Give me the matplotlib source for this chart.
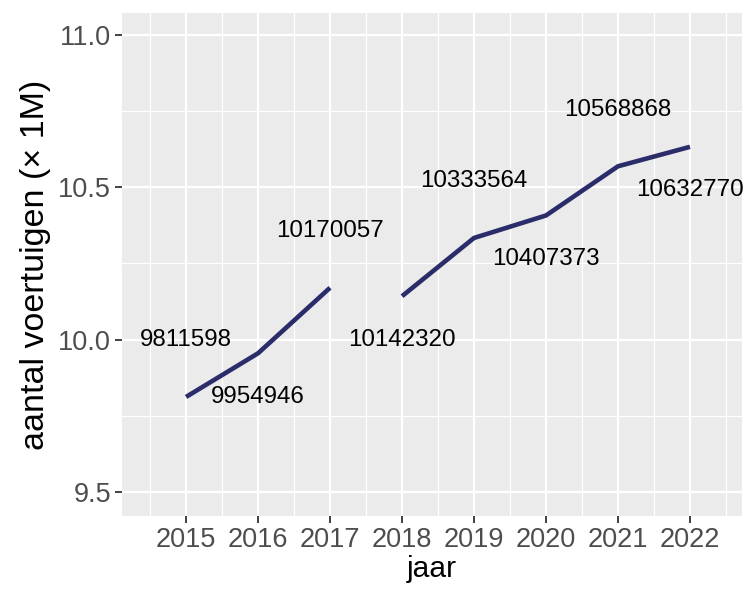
import numpy as np
import matplotlib
matplotlib.use("Agg")
import matplotlib.pyplot as plt

# data: aantal voertuigen per jaar (breuk tussen 2017 en 2018)
jaren_a = [2015, 2016, 2017]
waarden_a = [9811598, 9954946, 10170057]
jaren_b = [2018, 2019, 2020, 2021, 2022]
waarden_b = [10142320, 10333564, 10407373, 10568868, 10632770]

plt.rcParams['font.family'] = ['Liberation Sans', 'DejaVu Sans']

fig = plt.figure(figsize=(7.44, 5.94), dpi=100)
ax = fig.add_axes([0.164, 0.131, 0.833, 0.847])
ax.set_facecolor('#EBEBEB')

lijnkleur = '#2B2D6B'
ax.plot(jaren_a, np.array(waarden_a) / 1e6, color=lijnkleur, lw=3.3, solid_capstyle='butt', zorder=3)
ax.plot(jaren_b, np.array(waarden_b) / 1e6, color=lijnkleur, lw=3.3, solid_capstyle='butt', zorder=3)

# labels afwisselend boven en onder
alle_jaren = jaren_a + jaren_b
alle_waarden = waarden_a + waarden_b
for i, (j, w) in enumerate(zip(alle_jaren, alle_waarden)):
    dy = 0.186 if i % 2 == 0 else -0.143
    ax.text(j, w / 1e6 + dy, str(w), ha='center', va='center', fontsize=17.4, color='black', zorder=4)

ax.set_xlim(2014.11, 2022.72)
ax.set_ylim(9.42, 11.072)
ax.set_xticks(alle_jaren)
ax.set_xticks(np.arange(2014.5, 2023, 1), minor=True)
ax.set_yticks([9.5, 10.0, 10.5, 11.0])
ax.set_yticks([9.75, 10.25, 10.75], minor=True)
ax.set_yticklabels(['9.5', '10.0', '10.5', '11.0'])

ax.grid(which='major', color='white', lw=1.6)
ax.grid(which='minor', color='white', lw=0.8)
ax.set_axisbelow(True)
for s in ax.spines.values():
    s.set_visible(False)

ax.tick_params(which='major', length=5, width=1.3, color='#333333', labelcolor='#4D4D4D', labelsize=19.5, pad=3)
ax.tick_params(which='minor', length=0)

ax.set_xlabel('jaar', fontsize=21.6, labelpad=1)
ax.set_ylabel('aantal voertuigen (× 1M)', fontsize=24.5, labelpad=5)

fig.savefig('out.png', dpi=100)
